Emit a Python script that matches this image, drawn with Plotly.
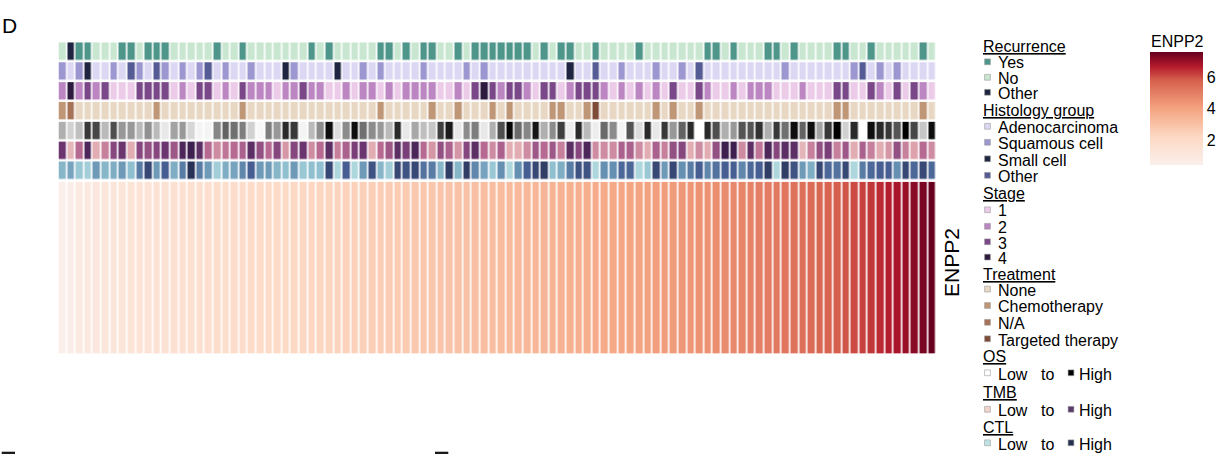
import plotly.graph_objects as go

W, H = 1225, 454
FONT = "Liberation Sans, Arial, Helvetica, sans-serif"

# ---- per-sample annotation tracks (samples ordered by ENPP2 expression) ----
recurrence = [
    'N', 'O', 'Y', 'Y', 'N', 'N', 'N', 'Y', 'Y', 'N',
    'Y', 'Y', 'Y', 'N', 'N', 'N', 'N', 'N', 'Y', 'N',
    'N', 'Y', 'N', 'N', 'N', 'N', 'N', 'N', 'N', 'Y',
    'N', 'Y', 'N', 'N', 'N', 'N', 'N', 'Y', 'Y', 'N',
    'Y', 'N', 'Y', 'Y', 'N', 'N', 'Y', 'N', 'Y', 'Y',
    'Y', 'Y', 'Y', 'Y', 'Y', 'N', 'Y', 'N', 'Y', 'Y',
    'N', 'N', 'Y', 'N', 'N', 'N', 'N', 'Y', 'N', 'N',
    'N', 'N', 'N', 'N', 'N', 'Y', 'Y', 'N', 'Y', 'N',
    'N', 'N', 'Y', 'Y', 'N', 'Y', 'N', 'N', 'N', 'N',
    'Y', 'Y', 'N', 'N', 'Y', 'N', 'N', 'N', 'N', 'N',
    'Y', 'N']

histology = [
    'S', 'A', 'S', 'C', 'A', 'A', 'S', 'A', 'O', 'S',
    'A', 'O', 'S', 'A', 'S', 'A', 'S', 'O', 'A', 'S',
    'A', 'A', 'S', 'A', 'A', 'A', 'C', 'S', 'A', 'A',
    'A', 'A', 'C', 'A', 'A', 'S', 'A', 'S', 'A', 'A',
    'A', 'A', 'S', 'A', 'A', 'A', 'A', 'S', 'A', 'S',
    'A', 'A', 'A', 'A', 'A', 'A', 'A', 'A', 'A', 'C',
    'A', 'A', 'O', 'A', 'A', 'S', 'A', 'A', 'A', 'S',
    'A', 'A', 'S', 'A', 'O', 'A', 'A', 'A', 'A', 'A',
    'A', 'A', 'A', 'A', 'S', 'A', 'A', 'A', 'A', 'A',
    'A', 'A', 'S', 'O', 'A', 'S', 'A', 'S', 'A', 'A',
    'A', 'A']

stage = [
    2, 4, 2, 3, 2, 3, 1, 1, 1, 3,
    3, 3, 3, 1, 2, 1, 3, 3, 1, 2,
    1, 3, 2, 2, 2, 1, 2, 2, 3, 2,
    2, 1, 1, 2, 1, 2, 2, 1, 2, 1,
    2, 2, 2, 2, 1, 1, 2, 1, 3, 4,
    3, 2, 3, 3, 2, 1, 3, 3, 1, 2,
    3, 3, 3, 2, 1, 2, 1, 2, 1, 2,
    1, 3, 1, 1, 3, 2, 1, 1, 2, 1,
    2, 2, 2, 1, 1, 1, 2, 1, 1, 1,
    3, 3, 1, 1, 3, 2, 1, 3, 1, 3,
    2, 1]

treatment = [
    'C', 'A', 'N', 'N', 'N', 'N', 'N', 'N', 'N', 'N',
    'N', 'C', 'N', 'N', 'N', 'N', 'N', 'N', 'N', 'N',
    'N', 'C', 'N', 'N', 'N', 'N', 'N', 'N', 'N', 'N',
    'N', 'N', 'N', 'N', 'N', 'N', 'N', 'C', 'N', 'N',
    'N', 'N', 'N', 'C', 'N', 'N', 'C', 'N', 'N', 'N',
    'C', 'N', 'C', 'N', 'N', 'N', 'N', 'C', 'C', 'N',
    'N', 'C', 'T', 'N', 'N', 'N', 'N', 'N', 'N', 'C',
    'N', 'C', 'N', 'N', 'C', 'N', 'N', 'N', 'N', 'N',
    'N', 'N', 'N', 'N', 'N', 'N', 'N', 'N', 'N', 'N',
    'C', 'C', 'N', 'N', 'N', 'N', 'N', 'N', 'N', 'N',
    'C', 'N']

# scaled continuous tracks (0 = low, 1 = high)
os_score = [
    0.35, 0.20, 0.28, 0.80, 0.75, 0.30, 0.72, 0.45, 0.45, 0.30,
    0.48, 0.30, 0.10, 0.40, 0.45, 0.18, 0.05, 0.05, 0.52, 0.65,
    0.60, 0.55, 0.20, 0.03, 0.55, 0.45, 0.85, 0.80, 0.05, 0.30,
    0.50, 0.95, 0.15, 0.50, 0.95, 0.60, 0.50, 0.45, 0.30, 0.85,
    0.10, 0.38, 0.28, 0.25, 0.78, 0.90, 0.10, 0.50, 0.55, 0.10,
    0.35, 0.72, 0.98, 0.62, 0.52, 0.92, 0.35, 0.50, 0.78, 0.08,
    0.85, 0.30, 0.08, 0.62, 0.50, 0.05, 0.70, 0.15, 0.85, 0.10,
    0.80, 0.45, 0.65, 0.85, 0.00, 0.85, 0.72, 0.35, 0.45, 0.70,
    0.70, 0.82, 0.35, 0.80, 0.60, 0.95, 0.65, 0.95, 0.40, 0.80,
    1.00, 0.20, 0.85, 0.00, 0.95, 0.85, 0.80, 0.70, 1.00, 0.75,
    0.25, 0.95]

tmb_score = [
    0.80, 0.15, 0.50, 0.90, 0.20, 0.40, 0.70, 0.80, 0.20, 0.70,
    0.65, 0.70, 0.80, 0.60, 0.90, 0.95, 0.85, 0.50, 0.35, 0.45,
    0.50, 0.55, 0.85, 0.65, 0.50, 0.70, 0.30, 0.70, 0.80, 0.35,
    0.50, 0.85, 0.40, 0.55, 0.75, 0.80, 0.20, 0.50, 0.60, 0.85,
    0.75, 0.90, 0.50, 0.30, 0.65, 0.55, 0.30, 0.70, 0.85, 0.50,
    0.35, 0.55, 0.20, 0.20, 0.35, 0.60, 0.50, 0.60, 0.40, 0.85,
    0.70, 0.90, 0.35, 0.35, 0.35, 0.55, 0.55, 0.35, 0.20, 0.55,
    0.40, 0.65, 0.70, 0.20, 0.35, 0.20, 0.65, 0.95, 0.95, 0.35,
    0.85, 0.45, 0.90, 0.70, 0.85, 0.85, 0.15, 0.40, 0.65, 0.75,
    0.40, 0.60, 0.20, 0.55, 0.40, 0.20, 0.30, 0.65, 0.40, 0.25,
    0.50, 0.35]

ctl_score = [
    0.30, 0.40, 0.20, 0.15, 0.45, 0.30, 0.35, 0.45, 0.25, 0.60,
    0.85, 0.45, 0.75, 0.35, 0.60, 0.95, 0.60, 0.45, 0.15, 0.35,
    0.40, 0.55, 0.75, 0.45, 0.45, 0.30, 0.25, 0.45, 0.20, 0.25,
    0.25, 0.85, 0.10, 0.75, 0.10, 0.45, 0.80, 0.30, 0.15, 0.85,
    0.80, 0.85, 0.65, 0.60, 0.30, 0.90, 0.30, 0.90, 0.55, 0.40,
    0.20, 0.50, 0.10, 0.50, 0.75, 0.85, 0.90, 0.25, 0.35, 0.60,
    0.80, 0.80, 0.10, 0.50, 0.50, 0.70, 0.70, 0.10, 0.20, 0.85,
    0.45, 0.85, 0.50, 0.60, 0.75, 0.55, 0.65, 0.75, 0.75, 0.55,
    0.70, 0.75, 0.90, 0.10, 0.90, 0.80, 0.45, 0.35, 0.85, 0.70,
    0.65, 0.85, 0.10, 0.60, 0.70, 0.75, 0.75, 0.50, 0.85, 0.70,
    0.85, 0.70]

# ENPP2 expression, ascending
enpp2 = [
    0.41, 0.66, 0.83, 0.95, 1.04, 1.12, 1.19, 1.25, 1.31, 1.36,
    1.42, 1.47, 1.51, 1.56, 1.60, 1.65, 1.69, 1.73, 1.78, 1.82,
    1.86, 1.90, 1.95, 1.99, 2.03, 2.08, 2.12, 2.17, 2.21, 2.26,
    2.30, 2.34, 2.38, 2.43, 2.47, 2.51, 2.55, 2.60, 2.64, 2.68,
    2.72, 2.76, 2.80, 2.85, 2.89, 2.93, 2.97, 3.01, 3.06, 3.10,
    3.14, 3.18, 3.23, 3.27, 3.32, 3.36, 3.41, 3.45, 3.50, 3.55,
    3.60, 3.65, 3.70, 3.75, 3.81, 3.86, 3.92, 3.98, 4.04, 4.10,
    4.16, 4.23, 4.29, 4.36, 4.43, 4.50, 4.57, 4.65, 4.72, 4.80,
    4.88, 4.96, 5.04, 5.13, 5.22, 5.31, 5.40, 5.50, 5.60, 5.71,
    5.82, 5.94, 6.06, 6.19, 6.33, 6.48, 6.64, 6.81, 6.99, 7.18,
    7.38, 7.60]

# ---- legend definitions: (label, code, colour) ----
recurrence_levels = [('Yes', 'Y', '#4f968a'), ('No', 'N', '#c8e6d0'), ('Other', 'O', '#1f2540')]
histology_levels = [('Adenocarcinoma', 'A', '#dcd8f4'), ('Squamous cell', 'S', '#9c97d0'),
                    ('Small cell', 'C', '#1f2540'), ('Other', 'O', '#555b95')]
stage_levels = [('1', 1, '#eccbe9'), ('2', 2, '#bb86c1'), ('3', 3, '#7a4789'), ('4', 4, '#2d1a3f')]
treatment_levels = [('None', 'N', '#e7d7c3'), ('Chemotherapy', 'C', '#bf9676'),
                    ('N/A', 'A', '#a67258'), ('Targeted therapy', 'T', '#7d4b36')]

os_scale = [[0, '#ffffff'], [0.5, '#8c8c8c'], [1, '#000000']]
tmb_scale = [[0, '#f1d5cd'], [0.25, '#dda2ab'], [0.5, '#b66a92'], [0.75, '#7a3e79'], [1, '#2f1846']]
ctl_scale = [[0, '#c0e4e6'], [0.25, '#90c0cf'], [0.5, '#6690b2'], [0.75, '#465e91'], [1, '#212748']]
enpp2_scale = [[0, '#faefeb'], [0.25, '#fdd9c4'], [0.5, '#f4a380'], [0.75, '#d6604d'],
               [0.875, '#b2182b'], [1, '#67001f']]

n = len(enpp2)
cols = list(range(n))
col_edges = [c - 0.5 for c in cols] + [n - 0.5]


def px(x):
    return x / W


def py(y):
    return 1 - y / H


def discrete_scale(colors):
    k = len(colors)
    out = []
    for i, c in enumerate(colors):
        out += [[i / k, c], [(i + 1) / k, c]]
    return out


fig = go.Figure()

XGAP, YGAP = 1.6, 2.6

# annotation tracks stacked top-to-bottom: row r spans [r, r+1] on a reversed axis
tracks = []
for values, levels in [(recurrence, recurrence_levels), (histology, histology_levels),
                       (stage, stage_levels), (treatment, treatment_levels)]:
    index = {code: i for i, (_, code, _) in enumerate(levels)}
    tracks.append(([index[v] for v in values], -0.5, len(levels) - 0.5,
                   discrete_scale([c for _, _, c in levels])))
for values, scale in [(os_score, os_scale), (tmb_score, tmb_scale), (ctl_score, ctl_scale)]:
    tracks.append((values, 0, 1, scale))

for r, (z, lo, hi, scale) in enumerate(tracks):
    fig.add_trace(go.Heatmap(
        x=col_edges, y=[r, r + 1], z=[z], zmin=lo, zmax=hi, colorscale=scale,
        showscale=False, xgap=XGAP, ygap=YGAP, hoverinfo='skip',
        xaxis='x', yaxis='y'))

# expression row with its colour bar (title drawn separately above the bar)
fig.add_trace(go.Heatmap(
    x=col_edges, y=[0, 1], z=[enpp2], colorscale=enpp2_scale,
    xgap=XGAP, hoverinfo='skip', xaxis='x', yaxis='y2',
    colorbar=dict(
        tickvals=[2, 4, 6], ticks='', tickfont=dict(family=FONT, size=16, color='#000'),
        outlinewidth=0, thickness=53, thicknessmode='pixels',
        len=113.3, lenmode='pixels', x=px(1150), xanchor='left', xpad=0,
        y=py(108.4), yanchor='middle', ypad=0)))

block_top, block_bottom = 42.7 - YGAP / 2, 179.0 + YGAP / 2
fig.update_layout(
    width=W, height=H, margin=dict(l=0, r=0, t=0, b=0),
    paper_bgcolor='white', plot_bgcolor='white',
    xaxis=dict(domain=[px(58.5), px(936.8)], range=[-0.5, n - 0.5], visible=False),
    yaxis=dict(domain=[py(block_bottom), py(block_top)], range=[len(tracks), 0],
               visible=False),
    yaxis2=dict(domain=[py(353.5), py(181.7)], range=[0, 1], anchor='x', visible=False),
    showlegend=False,
)

annotations = []
shapes = []


def text(x, y, s, size=16, xanchor='left', angle=0):
    annotations.append(dict(x=px(x), y=py(y), xref='paper', yref='paper', text=s,
                            showarrow=False, xanchor=xanchor, yanchor='middle',
                            textangle=angle,
                            font=dict(family=FONT, size=size, color='#000')))


def swatch(cx, cy, color, size=5.8):
    shapes.append(dict(type='rect', xref='paper', yref='paper',
                       x0=px(cx - size / 2), x1=px(cx + size / 2),
                       y0=py(cy + size / 2), y1=py(cy - size / 2),
                       fillcolor=color, line=dict(color='#9a9a9a', width=0.6)))


# panel letter, row label and colour-bar title
text(-0.5, 25.5, 'D', size=21)
text(951, 263, 'ENPP2', size=21, xanchor='center', angle=-90)
text(1148.5, 41.7, 'ENPP2')

TX, IX, SX = 980.5, 995.5, 987.5


def group(title, ty, levels, ys):
    text(TX, ty, '<u>' + title + '</u>')
    for (label, _, color), iy in zip(levels, ys):
        swatch(SX, iy - 1.2, color)
        text(IX, iy, label)


group('Recurrence', 46, recurrence_levels, [63, 78.5, 93.5])
group('Histology group', 110.5, histology_levels, [127.5, 143.5, 160, 176.5])
group('Stage', 193.5, stage_levels, [211, 227.5, 243, 258.3])
group('Treatment', 274.3, treatment_levels, [290.3, 306.7, 323.5, 340])


def gradient_key(title, ty, iy, low, high):
    text(TX, ty, '<u>' + title + '</u>')
    swatch(SX, iy - 1.2, low)
    text(IX, iy, 'Low')
    text(1038.5, iy, 'to')
    swatch(1071, iy - 1.2, high)
    text(1076.5, iy, 'High')


gradient_key('OS', 356, 374, '#ffffff', '#000000')
gradient_key('TMB', 392, 410.5, '#f1d5cd', '#5a3a6a')
gradient_key('CTL', 427, 444, '#c0e4e6', '#26304f')

# edges of the neighbouring panels peeking in at the bottom
for x0, x1 in [(1.7, 15), (435, 448.3)]:
    shapes.append(dict(type='rect', xref='paper', yref='paper', x0=px(x0), x1=px(x1),
                       y0=py(454), y1=py(451.7), fillcolor='#1a1a1a', line=dict(width=0)))

fig.update_layout(annotations=annotations, shapes=shapes)
fig.write_html('out.html')
